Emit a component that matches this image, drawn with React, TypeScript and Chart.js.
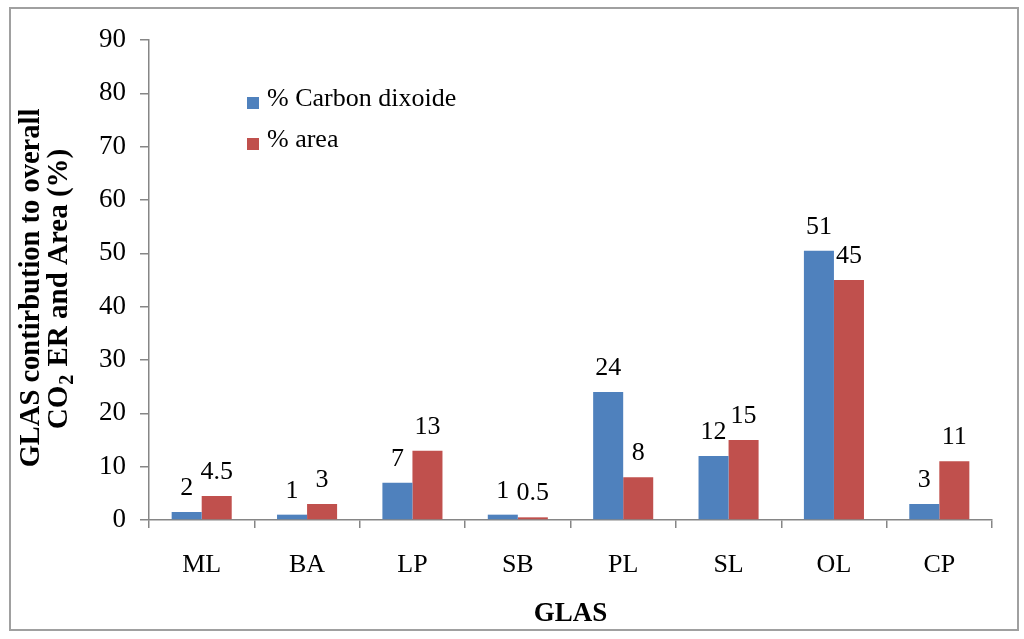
import React, { useEffect, useRef } from "react";
import { Chart, registerables } from "chart.js";

Chart.register(...registerables);

const categories = ["ML", "BA", "LP", "SB", "PL", "SL", "OL", "CP"];
const co2Values = [1.5, 1, 7, 1, 24, 12, 50.5, 3];
const areaValues = [4.5, 3, 13, 0.5, 8, 15, 45, 11];
const co2Labels = ["2", "1", "7", "1", "24", "12", "51", "3"];
const areaLabels = ["4.5", "3", "13", "0.5", "8", "15", "45", "11"];
const seriesNames = ["% Carbon dixoide", "% area"];
const seriesColors = ["#4F81BD", "#C0504D"];
const yMin = 0;
const yMax = 90;
const yStep = 10;
const xTitle = "GLAS";
const yTitleLine1 = "GLAS contirbution to overall";
const yTitleLine2Parts = ["CO", "2", " ER and Area (%)"];

const FONT = "'Liberation Serif', 'Times New Roman', serif";
const AXIS = "#868686";

const valueLabelPlugin = {
  id: "valueLabels",
  afterDatasetsDraw(chart: any) {
    const ctx = chart.ctx;
    ctx.save();
    ctx.font = `26px ${FONT}`;
    ctx.fillStyle = "#000";
    ctx.textAlign = "center";
    ctx.textBaseline = "alphabetic";
    chart.data.datasets.forEach((ds: any, i: number) => {
      const meta = chart.getDatasetMeta(i);
      meta.data.forEach((el: any, j: number) => {
        ctx.fillText(ds.valueLabels[j], el.x, el.y - 17);
      });
    });
    ctx.restore();
  },
};

const legendPlugin = {
  id: "insideLegend",
  afterDraw(chart: any) {
    const ctx = chart.ctx;
    const { left, top } = chart.chartArea;
    ctx.save();
    ctx.font = `26px ${FONT}`;
    ctx.textAlign = "left";
    ctx.textBaseline = "alphabetic";
    chart.data.datasets.forEach((ds: any, i: number) => {
      const sy = top + 57 + i * 41;
      ctx.fillStyle = ds.backgroundColor;
      ctx.fillRect(left + 98, sy, 12, 12);
      ctx.fillStyle = "#000";
      ctx.fillText(ds.label, left + 118, sy + 9);
    });
    ctx.restore();
  },
};

const yTitlePlugin = {
  id: "yTitle",
  afterDraw(chart: any) {
    const ctx = chart.ctx;
    const big = `bold 28.5px ${FONT}`;
    const big2 = `bold 29px ${FONT}`;
    const small = `bold 20px ${FONT}`;
    ctx.save();
    ctx.fillStyle = "#000";
    ctx.textBaseline = "alphabetic";
    // line 1
    ctx.save();
    ctx.translate(39, 288);
    ctx.rotate(-Math.PI / 2);
    ctx.font = big;
    ctx.textAlign = "center";
    ctx.fillText(yTitleLine1, 0, 0);
    ctx.restore();
    // line 2 with subscript
    ctx.save();
    ctx.translate(67, 289);
    ctx.rotate(-Math.PI / 2);
    ctx.textAlign = "left";
    ctx.font = big2;
    const w0 = ctx.measureText(yTitleLine2Parts[0]).width;
    const w2 = ctx.measureText(yTitleLine2Parts[2]).width;
    ctx.font = small;
    const w1 = ctx.measureText(yTitleLine2Parts[1]).width + 2;
    let x = -(w0 + w1 + w2) / 2;
    ctx.font = big2;
    ctx.fillText(yTitleLine2Parts[0], x, 0);
    x += w0 + 1;
    ctx.font = small;
    ctx.fillText(yTitleLine2Parts[1], x, 6);
    x += w1 - 1;
    ctx.font = big2;
    ctx.fillText(yTitleLine2Parts[2], x, 0);
    ctx.restore();
    ctx.restore();
  },
};

export default function App() {
  const canvasRef = useRef<HTMLCanvasElement | null>(null);

  useEffect(() => {
    if (!canvasRef.current) return;
    const chart = new Chart(canvasRef.current, {
      type: "bar",
      data: {
        labels: categories,
        datasets: [
          {
            label: seriesNames[0],
            data: co2Values,
            backgroundColor: seriesColors[0],
            valueLabels: co2Labels,
          } as any,
          {
            label: seriesNames[1],
            data: areaValues,
            backgroundColor: seriesColors[1],
            valueLabels: areaLabels,
          } as any,
        ],
      },
      options: {
        responsive: false,
        animation: false,
        devicePixelRatio: 1,
        layout: { padding: { top: 40, right: 32, left: 0, bottom: 0 } },
        datasets: {
          bar: { categoryPercentage: 0.57, barPercentage: 1.0 },
        },
        plugins: {
          legend: { display: false },
          tooltip: { enabled: false },
        },
        scales: {
          x: {
            grid: {
              display: true,
              drawOnChartArea: false,
              drawTicks: true,
              tickLength: 8,
              color: AXIS,
              lineWidth: 1.5,
              offset: true,
            },
            border: { color: AXIS, width: 1.5 },
            ticks: {
              color: "#000",
              font: { family: FONT, size: 26 },
              padding: 22,
              maxRotation: 0,
            },
            title: {
              display: true,
              text: xTitle,
              color: "#000",
              font: { family: FONT, size: 27, weight: "bold" },
              padding: { top: 0, bottom: 9 },
            },
            afterFit(scale: any) {
              scale.height = 119;
            },
          },
          y: {
            min: yMin,
            max: yMax,
            grid: {
              display: true,
              drawOnChartArea: false,
              drawTicks: true,
              tickLength: 9,
              color: AXIS,
              lineWidth: 1.5,
            },
            border: { color: AXIS, width: 1.5 },
            ticks: {
              stepSize: yStep,
              color: "#000",
              font: { family: FONT, size: 27 },
              padding: 14,
            },
            afterFit(scale: any) {
              scale.width = 149;
            },
          },
        },
      } as any,
      plugins: [valueLabelPlugin, legendPlugin, yTitlePlugin],
    });
    return () => chart.destroy();
  }, []);

  return (
    <div style={{ position: "absolute", left: 0, top: 0, width: 1024, height: 639, background: "#fff" }}>
      <div
        style={{
          position: "absolute",
          left: 9,
          top: 7,
          width: 1010,
          height: 624,
          boxSizing: "border-box",
          border: "2px solid #A0A0A0",
        }}
      />
      <canvas
        ref={canvasRef}
        width={1024}
        height={639}
        style={{ position: "absolute", left: 0, top: 0, width: 1024, height: 639, display: "block" }}
      />
    </div>
  );
}
